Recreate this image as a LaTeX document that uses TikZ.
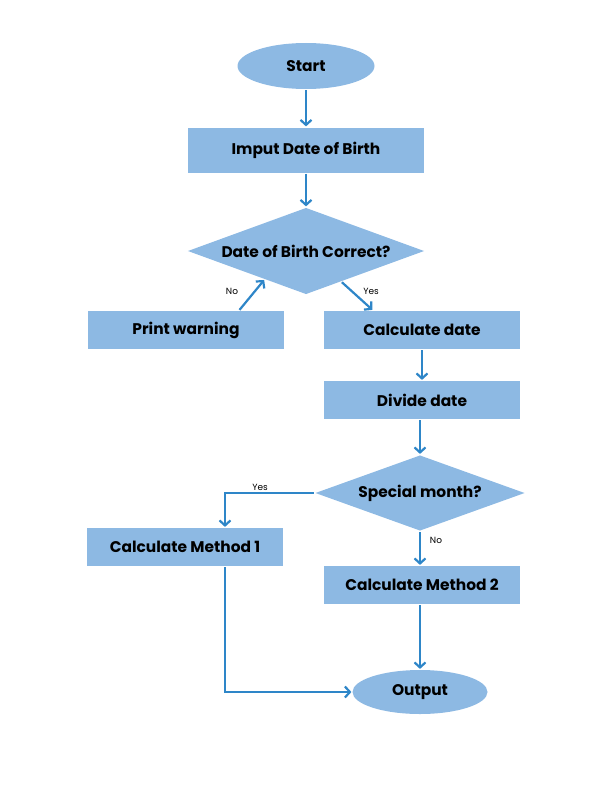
\documentclass[tikz,border=0pt]{standalone}
\usepackage{fontspec}
\setmainfont{Poppins}
\usetikzlibrary{shapes.geometric,arrows.meta,calc}
\definecolor{boxblue}{HTML}{8DB9E3}
\definecolor{lineblue}{HTML}{2E86C8}
\begin{document}
\begin{tikzpicture}[x=1bp,y=-1bp,
        box/.style={shape=rectangle,fill=boxblue,inner sep=0pt,minimum width=196bp,minimum height=38bp,font=\fontsize{15.5}{17}\selectfont\bfseries},
        term/.style={shape=ellipse,fill=boxblue,inner sep=0pt,minimum width=137bp,minimum height=46bp,font=\fontsize{15.5}{17}\selectfont\bfseries},
        ask/.style={shape=diamond,fill=boxblue,inner sep=0pt,aspect=2.7,font=\fontsize{15.5}{17}\selectfont\bfseries},
        lab/.style={font=\fontsize{9}{10}\selectfont},
        >={Straight Barb[length=5bp,width=11bp]},
        every path/.style={draw=lineblue,line width=2.2bp}]
        \useasboundingbox[draw=none] (0,0) rectangle (612,792);
        \node[term] (start) at (306,66) {Start};
        \node[box,minimum width=236bp,minimum height=45bp] (imput) at (306,150) {Imput Date of Birth};
        \node[ask,minimum width=237bp,minimum height=87bp] (dob) at (306,251) {Date of Birth Correct?};
        \node[box] (warn) at (186,330) {Print warning};
        \node[box] (calc) at (422,330) {Calculate date};
        \node[box] (divide) at (422,400) {Divide date};
        \node[ask,minimum width=210bp,minimum height=76bp] (special) at (420,493) {Special month?};
        \node[box] (meth1) at (185,547) {Calculate Method 1};
        \node[box] (meth2) at (422,585) {Calculate Method 2};
        \node[term,minimum width=135bp,minimum height=44bp] (output) at (420,692) {Output};
        \node[lab] (no1) at (232,291) {No};
        \node[lab] (yes1) at (371,291) {Yes};
        \node[lab] (yes2) at (260,487) {Yes};
        \node[lab] (no2) at (436,540) {No};
        \path [->] (start) edge (imput);
        \path [->] (imput) edge (dob);
        \draw [->] ($(warn.north west)!0.77!(warn.north east)$) -- ($(dob.west)!0.65!(dob.south)$);
        \draw [->] ($(dob.south)!0.3!(dob.east)$) -- ($(calc.north west)!0.25!(calc.north east)$);
        \path [->] (calc) edge (divide);
        \draw [->] (divide.south -| special.north) -- (special.north);
        \draw [->] (special.south) -- (special.south |- meth2.north);
        \draw [->] (special.west) -| (meth1.north -| 225,0);
        \draw [->] (meth1.south -| 225,0) |- (output.west);
        \draw [->] (meth2.south -| output.north) -- (output.north);
\end{tikzpicture}
\end{document}
